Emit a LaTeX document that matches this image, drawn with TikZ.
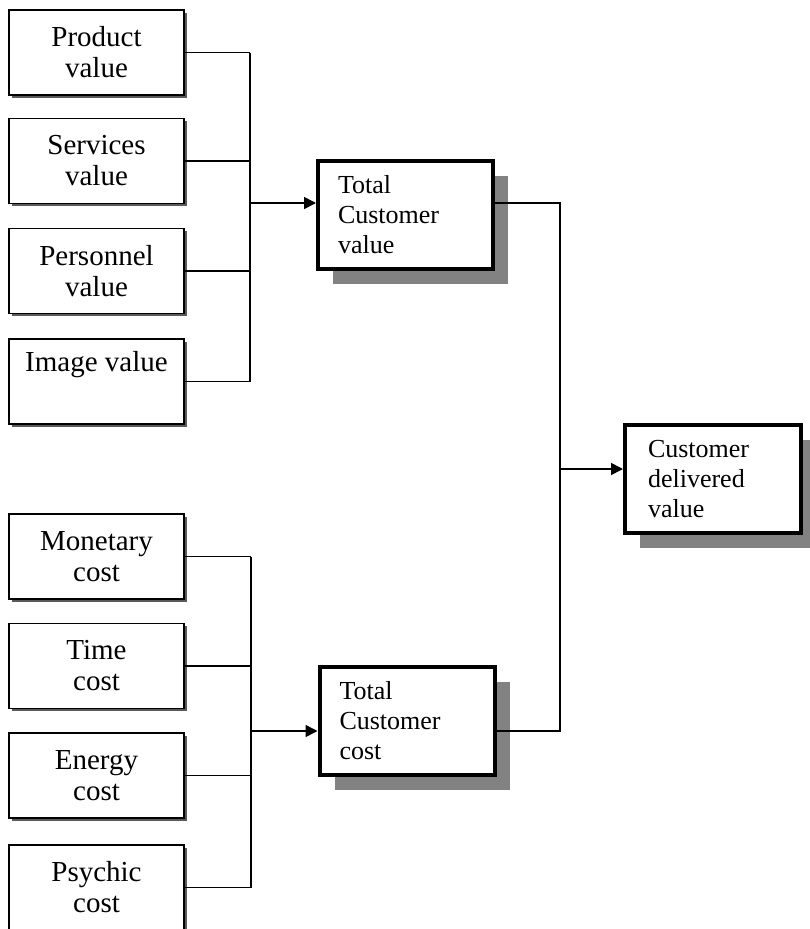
\documentclass[tikz,border=0pt]{standalone}
\usepackage{fontspec}
\setmainfont{Liberation Serif}
\usetikzlibrary{arrows.meta, shadows}
\definecolor{shadowgray}{HTML}{828282}
\definecolor{edgegray}{HTML}{5A5A5A}
\tikzset{
  factor/.style={draw, line width=1.7pt, fill=white, minimum width=175pt, minimum height=85pt,
    align=center, inner sep=0pt, font=\fontsize{29}{31}\selectfont,
    drop shadow={shadow xshift=2.5pt, shadow yshift=-2.5pt, fill=edgegray, opacity=1}},
  total/.style={draw, line width=4pt, fill=white, minimum width=175pt, minimum height=108pt,
    text width=135pt, inner xsep=20pt, align=left, font=\fontsize{26}{30}\selectfont,
    drop shadow={shadow xshift=15pt, shadow yshift=-15pt, fill=shadowgray, opacity=1}},
  link/.style={line width=1.6pt},
  feed/.style={link, -{Triangle[length=12pt,width=12pt]}}
}
\begin{document}
\begin{tikzpicture}[x=1pt,y=-1pt]
\useasboundingbox (0,0) rectangle (810,929);
% value side
\foreach \n/\y/\txt in {pv/52.5/{Product\\value}, sv/161/{Services\\value}, pe/271/{Personnel\\value}, iv/381.5/{Image value\\\strut}}
  \node[factor] (\n) at (96.5,\y) {\txt};
% cost side
\foreach \n/\y/\txt in {mc/556.5/{Monetary\\cost}, tc/666/{Time\\cost}, ec/775.5/{Energy\\cost}, pc/887.5/{Psychic\\cost}}
  \node[factor] (\n) at (96.5,\y) {\txt};
\node[total] (tcv) at (405.5,215) {Total\\Customer\\value};
\node[total] (tcc) at (407,721) {Total\\Customer\\cost};
\node[total, text width=130pt, inner xsep=23pt] (cdv) at (713,479) {Customer\\delivered\\value};
\coordinate (vbus) at (250,203);
\coordinate (cbus) at (251,731);
\coordinate (dbus) at (560,469);
\foreach \n in {pv,sv,pe,iv} {\draw[link] (\n.east) -- (\n.east -| vbus);}
\foreach \n in {mc,tc,ec,pc} {\draw[link] (\n.east) -- (\n.east -| cbus);}
\draw[link] (pv.east -| vbus) -- (iv.east -| vbus);
\draw[link] (mc.east -| cbus) -- (pc.east -| cbus);
\draw[feed] (vbus) -- (vbus -| tcv.west);
\draw[feed] (cbus) -- (cbus -| tcc.west);
\draw[link] (tcv.east |- vbus) -- (vbus -| dbus) -- (cbus -| dbus) -- (tcc.east |- cbus);
\draw[feed] (dbus) -- (dbus -| cdv.west);
\end{tikzpicture}
\end{document}
